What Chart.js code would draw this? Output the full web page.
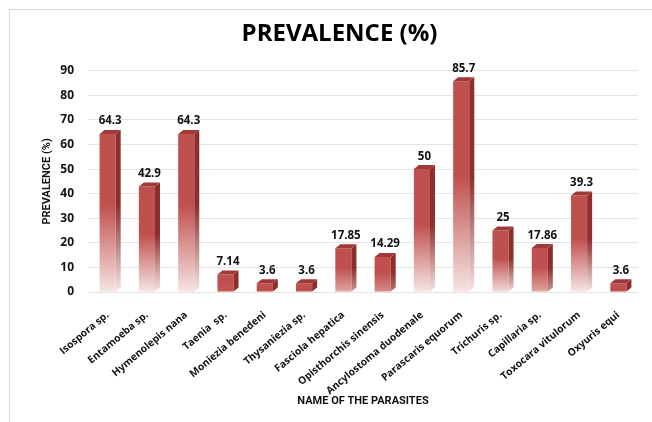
<!DOCTYPE html>
<html>
<head>
<meta charset="utf-8">
<script src="https://cdn.jsdelivr.net/npm/chart.js@4.4.1/dist/chart.umd.min.js"></script>
<style>
  html, body { margin: 0; padding: 0; background: #fff; }
  #wrap { position: relative; width: 652px; height: 422px; }
  #frame { position: absolute; left: 9px; top: 9px; right: 0; bottom: 0;
           border-left: 1px solid #d9d9d9; border-top: 1px solid #d9d9d9; pointer-events: none; }
  canvas { position: absolute; left: 0; top: 0; }
</style>
</head>
<body>
<div id="wrap">
  <canvas id="c" width="652" height="422"></canvas>
  <div id="frame"></div>
</div>
<script>
// Parasites examined and their prevalence (%)
const categories = [
  'Isospora sp.', 'Entamoeba sp.', 'Hymenolepis nana', 'Taenia  sp.',
  'Moniezia benedeni', 'Thysaniezia sp.', 'Fasciola hepatica', 'Opisthorchis sinensis',
  'Ancylostoma duodenale', 'Parascaris equorum', 'Trichuris sp.', 'Capillaria sp.',
  'Toxocara vitulorum', 'Oxyuris equi'
];
const prevalence = [64.3, 42.9, 64.3, 7.14, 3.6, 3.6, 17.85, 14.29, 50, 85.7, 25, 17.86, 39.3, 3.6];
const yTicks = [0, 10, 20, 30, 40, 50, 60, 70, 80, 90];

const RED = [192, 80, 77];
const SIDE = [139, 46, 44];
const PALE = [248, 234, 233];
const DEPTH_X = 5, DEPTH_Y = 4;

function mix(a, b, t) {
  return 'rgb(' + a.map((v, i) => Math.round(v + (b[i] - v) * t)).join(',') + ')';
}

// Vertical fade from solid red at the top to pale at the base; short bars fade less
function fadeGradient(ctx, top, base, color) {
  const h = Math.max(1, base - top);
  const strength = Math.max(0, Math.min(1, (h - 15) / 50));
  const g = ctx.createLinearGradient(0, top, 0, base);
  g.addColorStop(0, mix(color, color, 0));
  g.addColorStop(0.45, mix(color, color, 0));
  g.addColorStop(1, mix(color, PALE, 0.97 * strength));
  return g;
}

function frontColor(context) {
  const chart = context.chart;
  if (!chart.chartArea) return mix(RED, RED, 0);
  const y = chart.scales.y;
  return fadeGradient(chart.ctx, y.getPixelForValue(context.raw), y.getPixelForValue(0), RED);
}

// Side and top faces plus the value labels above each bar
const bar3d = {
  id: 'bar3d',
  afterDatasetsDraw(chart) {
    const ctx = chart.ctx;
    const meta = chart.getDatasetMeta(0);
    ctx.save();
    meta.data.forEach((el, i) => {
      const { x, y, base, width } = el.getProps(['x', 'y', 'base', 'width'], true);
      const l = x - width / 2, r = x + width / 2;
      // right side face
      ctx.fillStyle = fadeGradient(ctx, y, base, SIDE);
      ctx.beginPath();
      ctx.moveTo(r, y);
      ctx.lineTo(r + DEPTH_X, y - DEPTH_Y);
      ctx.lineTo(r + DEPTH_X, base - DEPTH_Y);
      ctx.lineTo(r, base);
      ctx.closePath();
      ctx.fill();
      // top face
      ctx.fillStyle = 'rgb(160,58,56)';
      ctx.beginPath();
      ctx.moveTo(l, y);
      ctx.lineTo(l + DEPTH_X, y - DEPTH_Y);
      ctx.lineTo(r + DEPTH_X, y - DEPTH_Y);
      ctx.lineTo(r, y);
      ctx.closePath();
      ctx.fill();
      // value label
      ctx.fillStyle = '#111';
      ctx.font = 'bold 11.5px "Open Sans"';
      ctx.textAlign = 'center';
      ctx.textBaseline = 'bottom';
      ctx.fillText(String(prevalence[i]), x + DEPTH_X / 2, y - DEPTH_Y - 3);
    });
    ctx.restore();
  }
};

new Chart(document.getElementById('c'), {
  type: 'bar',
  data: {
    labels: categories,
    datasets: [{
      data: prevalence,
      backgroundColor: frontColor,
      borderWidth: 0,
      barPercentage: 0.82,
      categoryPercentage: 0.5
    }]
  },
  options: {
    responsive: false,
    devicePixelRatio: 1,
    animation: false,
    layout: { padding: { left: 41, right: 14, top: 0, bottom: 14 } },
    plugins: {
      legend: { display: false },
      tooltip: { enabled: false },
      title: {
        display: true,
        text: 'PREVALENCE (%)',
        color: '#000',
        font: { family: 'Open Sans', size: 24, weight: 'bold' },
        padding: { top: 20, bottom: 22 }
      }
    },
    scales: {
      y: {
        min: 0,
        max: 90,
        afterBuildTicks(scale) { scale.ticks = yTicks.map(v => ({ value: v })); },
        afterFit(scale) { scale.width = 47; },
        ticks: {
          color: '#111',
          padding: 14,
          font: { family: 'Open Sans', size: 12, weight: 'bold' }
        },
        grid: { color: '#e4e4e4', drawTicks: false },
        border: { display: false },
        title: {
          display: true,
          text: 'PREVALENCE (%)',
          color: '#111',
          padding: { top: 0, bottom: 0 },
          font: { family: 'Roboto', size: 11, weight: 'bold' }
        }
      },
      x: {
        afterFit(scale) { scale.height = 116; },
        grid: { display: false },
        border: { display: false },
        ticks: {
          color: '#111',
          minRotation: 40,
          maxRotation: 40,
          autoSkip: false,
          padding: 9,
          font: { family: 'Open Sans', size: 10.2, weight: 'bold' }
        },
        title: {
          display: true,
          text: 'NAME OF THE PARASITES',
          color: '#111',
          padding: { top: 0, bottom: 0 },
          font: { family: 'Roboto', size: 11, weight: 'bold' }
        }
      }
    }
  },
  plugins: [bar3d]
});
</script>
</body>
</html>
